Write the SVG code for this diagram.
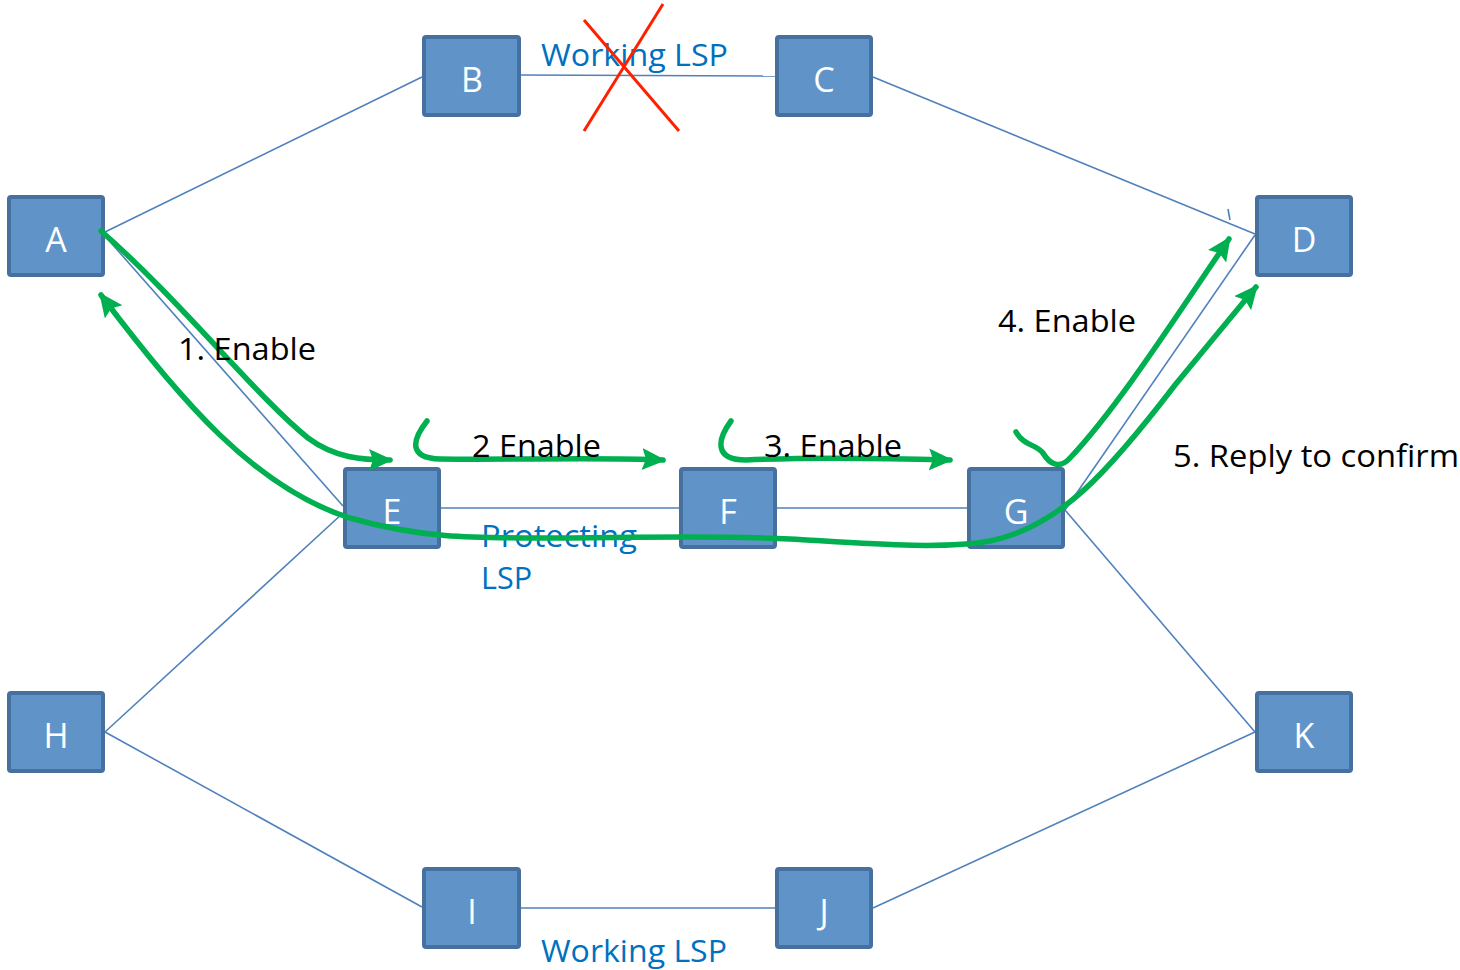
<svg xmlns="http://www.w3.org/2000/svg" width="1460" height="970" viewBox="0 0 1460 970">
  <style>
    .node rect { fill: #6094c8; stroke: #46709e; stroke-width: 4; }
    .node text { fill: #ffffff; font-family: "Open Sans", "Liberation Sans", sans-serif; font-size: 34px; text-anchor: middle; }
    .link { stroke: #4f81bd; stroke-width: 1.6; fill: none; }
    .flow { stroke: #00b050; stroke-width: 5.5; fill: none; stroke-linecap: round; }
    .lsp { fill: #0070c0; font-family: "Open Sans", "Liberation Sans", sans-serif; font-size: 31px; }
    .step { fill: #000000; font-family: "Open Sans", "Liberation Sans", sans-serif; font-size: 31px; }
  </style>
  <defs>
    <marker id="arrow" markerUnits="userSpaceOnUse" markerWidth="26" markerHeight="24" refX="21" refY="11" orient="auto-start-reverse">
      <path d="M0,0 L24,11 L0,22 L4,11 Z" fill="#00b050"/>
    </marker>
  </defs>
  <rect width="1460" height="970" fill="#ffffff"/>

  <!-- links between routers -->
  <g id="links">
    <line class="link" x1="105" y1="232" x2="422" y2="77"/>
    <line class="link" x1="521" y1="75" x2="775" y2="76"/>
    <line class="link" x1="873" y1="77" x2="1255" y2="234"/>
    <line class="link" x1="105" y1="236" x2="343" y2="506"/>
    <line class="link" x1="343" y1="513" x2="105" y2="732"/>
    <line class="link" x1="441" y1="508" x2="679" y2="508"/>
    <line class="link" x1="777" y1="508" x2="967" y2="508"/>
    <line class="link" x1="1065" y1="510" x2="1255" y2="235"/>
    <line class="link" x1="1065" y1="510" x2="1255" y2="732"/>
    <line class="link" x1="105" y1="732" x2="422" y2="907"/>
    <line class="link" x1="521" y1="908" x2="775" y2="908"/>
    <line class="link" x1="873" y1="908" x2="1255" y2="732"/>
    <line class="link" x1="1228" y1="209" x2="1230" y2="220"/>
  </g>

  <!-- routers -->
  <g id="node-A" class="node"><rect x="9" y="197" width="94" height="78" rx="2"/><text x="56" y="252">A</text></g>
  <g id="node-B" class="node"><rect x="424" y="37" width="95" height="78" rx="2"/><text x="472" y="92">B</text></g>
  <g id="node-C" class="node"><rect x="777" y="37" width="94" height="78" rx="2"/><text x="824" y="92">C</text></g>
  <g id="node-D" class="node"><rect x="1257" y="197" width="94" height="78" rx="2"/><text x="1304" y="252">D</text></g>
  <g id="node-E" class="node"><rect x="345" y="469" width="94" height="78" rx="2"/><text x="392" y="524">E</text></g>
  <g id="node-F" class="node"><rect x="681" y="469" width="94" height="78" rx="2"/><text x="728" y="524">F</text></g>
  <g id="node-G" class="node"><rect x="969" y="469" width="94" height="78" rx="2"/><text x="1016" y="524">G</text></g>
  <g id="node-H" class="node"><rect x="9" y="693" width="94" height="78" rx="2"/><text x="56" y="748">H</text></g>
  <g id="node-I" class="node"><rect x="424" y="869" width="95" height="78" rx="2"/><text x="472" y="924">I</text></g>
  <g id="node-J" class="node"><rect x="777" y="869" width="94" height="78" rx="2"/><text x="824" y="924">J</text></g>
  <g id="node-K" class="node"><rect x="1257" y="693" width="94" height="78" rx="2"/><text x="1304" y="748">K</text></g>

  <!-- LSP labels -->
  <g id="lsp-labels">
    <text class="lsp" x="541" y="66" textLength="187" lengthAdjust="spacingAndGlyphs">Working LSP</text>
    <text class="lsp" x="481" y="547" textLength="156" lengthAdjust="spacingAndGlyphs">Protecting</text>
    <text class="lsp" x="481" y="589" textLength="51" lengthAdjust="spacingAndGlyphs">LSP</text>
    <text class="lsp" x="541" y="962" textLength="186" lengthAdjust="spacingAndGlyphs">Working LSP</text>
  </g>

  <!-- failure mark on B-C -->
  <g id="failure">
    <line x1="584" y1="131" x2="663" y2="4" stroke="#ff2000" stroke-width="3"/>
    <line x1="584" y1="20" x2="679" y2="131" stroke="#ff2000" stroke-width="3"/>
  </g>

  <!-- signalling flow -->
  <g id="flows">
    <path class="flow" d="M101,231 C180,300 255,395 308,438 C335,458 362,460 390,460" marker-end="url(#arrow)"/>
    <path class="flow" d="M427,421 C412,440 408,458 440,459 C520,460 600,457 663,460" marker-end="url(#arrow)"/>
    <path class="flow" d="M731,421 C717,440 714,460 746,460 C810,457 880,458 950,460" marker-end="url(#arrow)"/>
    <path class="flow" d="M1016,432 C1024,446 1036,444 1043,453 C1050,465 1060,469 1070,458 C1120,405 1180,310 1229,239" marker-end="url(#arrow)"/>
    <path class="flow" d="M101,295 C180,400 255,488 350,518 C420,538 470,538 540,538 C620,538 720,535 790,539 C860,543 940,550 990,541 C1060,527 1110,470 1175,385 L1256,287" marker-start="url(#arrow)" marker-end="url(#arrow)"/>
  </g>

  <!-- step labels -->
  <g id="step-labels">
    <text class="step" x="178" y="360" textLength="138" lengthAdjust="spacingAndGlyphs">1. Enable</text>
    <text class="step" x="472" y="457" textLength="129" lengthAdjust="spacingAndGlyphs">2 Enable</text>
    <text class="step" x="764" y="457" textLength="138" lengthAdjust="spacingAndGlyphs">3. Enable</text>
    <text class="step" x="998" y="332" textLength="138" lengthAdjust="spacingAndGlyphs">4. Enable</text>
    <text class="step" x="1173" y="467" textLength="286" lengthAdjust="spacingAndGlyphs">5. Reply to confirm</text>
  </g>
</svg>
